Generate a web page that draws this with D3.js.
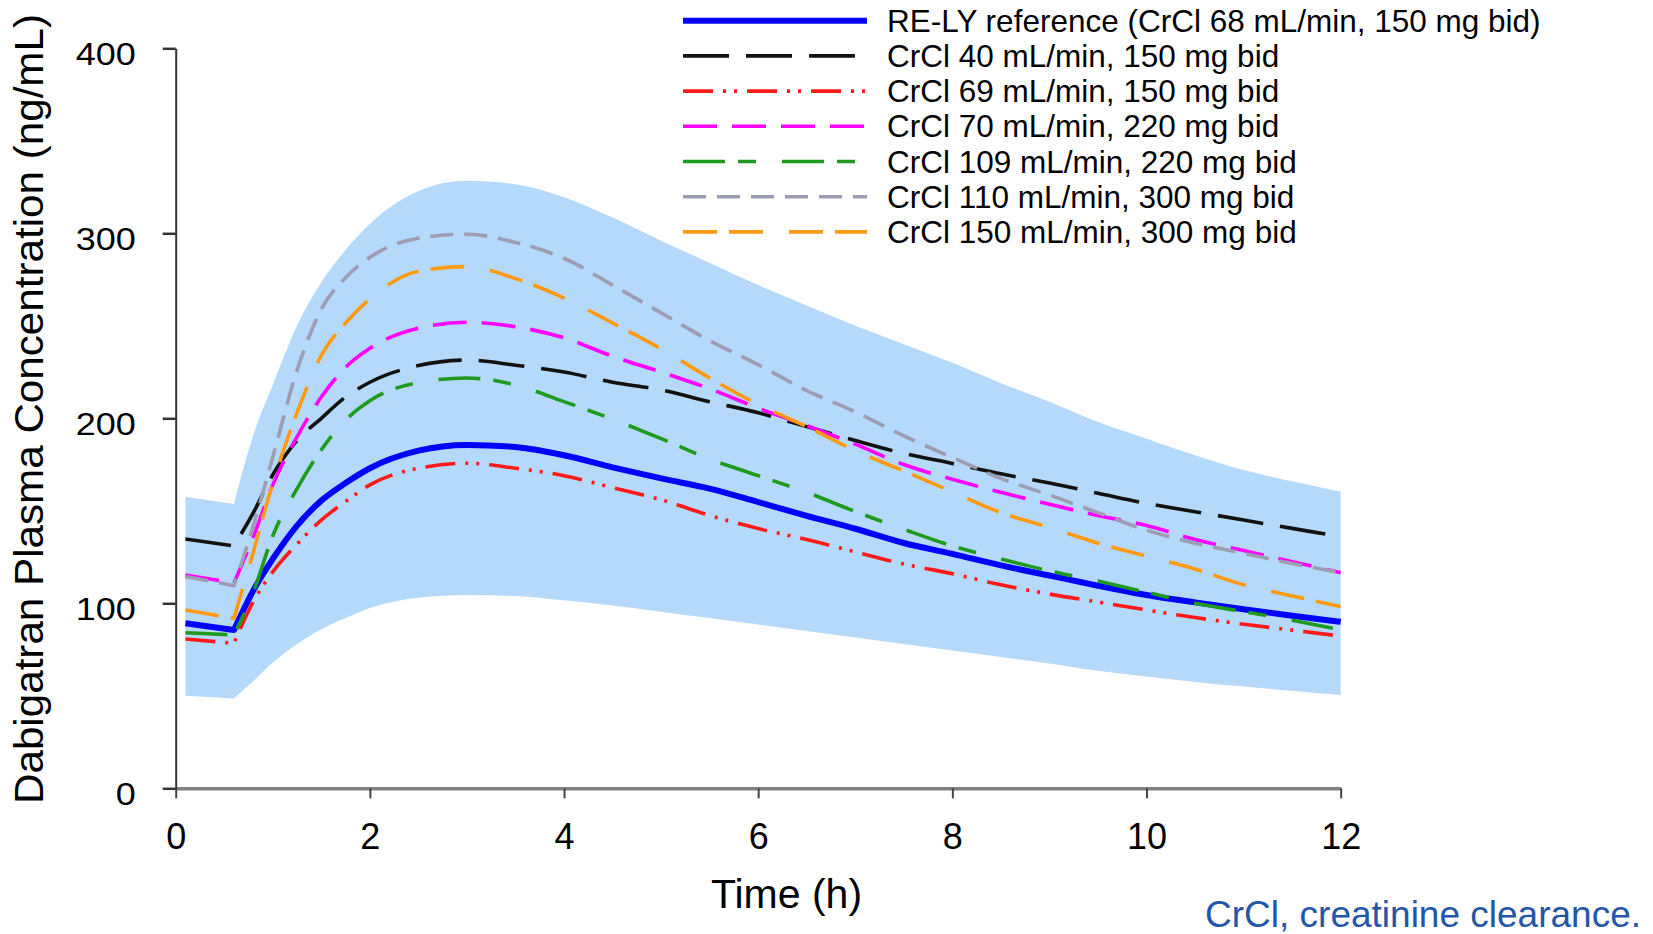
<!DOCTYPE html>
<html><head><meta charset="utf-8">
<script src="https://cdn.jsdelivr.net/npm/d3@7/dist/d3.min.js"></script>
<style>
body{margin:0;background:#fff;}
svg{display:block;}
text{font-family:"Liberation Sans",Arial,sans-serif;}
</style>
</head><body>
<svg id="chart" width="1653" height="934"></svg>
<script>
// ---- data (time in h, concentration in ng/mL) ----
const times = [0.1,0.6,0.8,1.0,1.25,1.5,1.75,2.0,2.5,3.0,3.5,4.0,4.5,5.0,5.5,6.0,6.5,7.0,7.5,8.0,8.5,9.0,9.5,10.0,10.5,11.0,11.5,12.0];
const bandUpper = [157.6,153.7,191,218,250,273.5,291,305,322.8,328.4,326.5,319.5,308.5,296,284,272,261,250,240,230,219,209,198,189,180,172,166,160.3];
const bandLower = [50,48.6,58,68,78,86,92,97.5,103,104.5,104,101.6,98.8,95.5,92,88.5,85,81.5,78,74.5,71,67.5,63.5,60.5,57.5,55,52.7,50.4];
const reLY     = [89.2,85.6,107,124,142,155.5,165,173,182.5,185.6,184.5,180,173.5,167.5,162,154.7,147.3,140.3,132.6,126.7,120.5,115,109.5,104.5,100.5,96.8,93.3,90];
const crcl40   = [134.8,131,149,169.5,188,200,211.5,219.5,228.5,231.5,228.7,225,219.5,215.3,209,203,195.5,188,181,175.6,170,165,159.5,154,149.5,145,140.5,136];
const crcl69   = [80.7,78.4,101,117,132,145,155,164,173,175.7,173,169,162.5,156,147.5,140.4,134.5,127.8,121.2,116,110,105,100.7,96.4,92.3,88.7,85.5,82.3];
const crcl70   = [115.3,111,136,164,190,211.5,227.5,237.8,248.7,251.9,249.5,243.5,233.5,225,216,205.5,196,186,175,167,160,153.5,147.5,142,134.5,128.5,122.5,116.5];
const crcl109  = [84.1,82.9,106,136.5,162,183,199,209.5,219.3,221.8,218,209,199.5,189,178,169,160,149.6,140,131,124,117.5,112,106,100,95.5,90.8,85.6];
const crcl110  = [114.5,109.5,142,179,226,259,276,287,297.3,299.5,295,286.5,272,257,242,229,215,203.5,190.5,178.8,167.5,158.5,149,139.5,132.5,127,121.5,116.5];
const crcl150  = [96.4,91.9,128,164.9,203,234,251.5,264.5,279.5,282,275.5,265,251.5,237.5,221.8,207.5,195.5,182.5,171.5,160.2,149,141,132.5,125.5,118.5,110,104,98.2];
const legendLabels = [
  "RE-LY reference (CrCl 68 mL/min, 150 mg bid)",
  "CrCl 40 mL/min, 150 mg bid",
  "CrCl 69 mL/min, 150 mg bid",
  "CrCl 70 mL/min, 220 mg bid",
  "CrCl 109 mL/min, 220 mg bid",
  "CrCl 110 mL/min, 300 mg bid",
  "CrCl 150 mL/min, 300 mg bid"
];
const yTicks = [0,100,200,300,400];
const xTicks = [0,2,4,6,8,10,12];

// ---- styles ----
const styles = [
  {color:"#0000ff", width:6,   dash:null},
  {color:"#111111", width:3.6, dash:"46,17"},
  {color:"#ff1a1a", width:3.6, dash:"30,10,3,8,3,10"},
  {color:"#ff00ff", width:3.6, dash:"34,15"},
  {color:"#1e9a1e", width:3.6, dash:"42,13,18,26"},
  {color:"#9c9cb2", width:3.6, dash:"23,11"},
  {color:"#ff9a12", width:3.6, dash:"34,12,34,26"}
];
const seriesValues = [reLY, crcl40, crcl69, crcl70, crcl109, crcl110, crcl150];
const drawOrder = [0,1,2,3,4,5,6];

const svg = d3.select("#chart");
const x = d3.scaleLinear().domain([0,12]).range([175.7,1340.7]);
const y = d3.scaleLinear().domain([0,400]).range([788.3,48.3]);

// path: straight first segment (pre-dose), monotone smooth afterwards
function twoPart(vals){
  const pts = times.map((t,i)=>[x(t), y(vals[i])]);
  const a = d3.line()(pts.slice(0,2));
  const b = d3.line().curve(d3.curveMonotoneX)(pts.slice(1));
  return a + b.slice(b.search(/[CL]/));
}
function bandPath(){
  const up = twoPart(bandUpper);
  const lo = times.map((t,i)=>[x(t), y(bandLower[i])]);
  const rev = lo.slice(1).reverse();
  const b = d3.line().curve(d3.curveMonotoneX)(rev);
  return up + "L" + rev[0][0] + "," + rev[0][1] + b.slice(b.search(/[CL]/)) +
         "L" + lo[0][0] + "," + lo[0][1] + "Z";
}

// band
svg.append("path").attr("d", bandPath()).attr("fill","#b5d9fa").attr("stroke","none");

// axes
const xAxis = d3.axisBottom(x).tickValues(xTicks).tickSize(10).tickSizeOuter(0).tickPadding(25);
const gx = svg.append("g").attr("transform",`translate(0,${y(0)})`).call(xAxis);
gx.select(".domain").attr("stroke","#808080").attr("stroke-width",3.5);
gx.selectAll(".tick line").attr("stroke","#444").attr("stroke-width",2);
gx.selectAll(".tick text").attr("font-size",36).attr("fill","#000")
  .attr("font-family",'"Liberation Sans",Arial,sans-serif');

const yAxis = d3.axisLeft(y).tickValues(yTicks).tickSize(13).tickSizeOuter(0).tickPadding(27);
const gy = svg.append("g").attr("transform",`translate(${x(0)},0)`).call(yAxis);
gy.select(".domain").attr("stroke","#333").attr("stroke-width",2);
gy.selectAll(".tick line").attr("stroke","#333").attr("stroke-width",2.5);
gy.selectAll(".tick text").attr("font-size",32).attr("fill","#000").attr("dy","0.5em")
  .attr("font-family",'"Liberation Sans",Arial,sans-serif')
  .attr("textLength", d => String(d).length*20).attr("lengthAdjust","spacingAndGlyphs");

// series lines
drawOrder.forEach(i=>{
  const s = styles[i];
  svg.append("path").attr("d", twoPart(seriesValues[i]))
    .attr("fill","none").attr("stroke",s.color).attr("stroke-width",s.width)
    .attr("stroke-dasharray", s.dash).attr("stroke-linejoin","round");
});

// legend
const lg = svg.append("g");
legendLabels.forEach((lab,i)=>{
  const yy = 20.7 + i*35.2;
  const s = styles[i];
  lg.append("line").attr("x1",683).attr("x2",867).attr("y1",yy).attr("y2",yy)
    .attr("stroke",s.color).attr("stroke-width",s.width).attr("stroke-dasharray",s.dash);
  lg.append("text").attr("x",887).attr("y",yy+11).attr("font-size",31.5).attr("fill","#000").text(lab);
});

// axis titles
svg.append("text").attr("transform","translate(43,409) rotate(-90)").attr("text-anchor","middle")
  .attr("font-size",41).attr("fill","#000").attr("textLength",790).attr("lengthAdjust","spacingAndGlyphs")
  .text("Dabigatran Plasma Concentration (ng/mL)");
svg.append("text").attr("x",786.5).attr("y",908).attr("text-anchor","middle")
  .attr("font-size",41).attr("fill","#000").text("Time (h)");
svg.append("text").attr("x",1641).attr("y",927).attr("text-anchor","end")
  .attr("font-size",37).attr("fill","#2356a8").text("CrCl, creatinine clearance.");
</script>
</body></html>
